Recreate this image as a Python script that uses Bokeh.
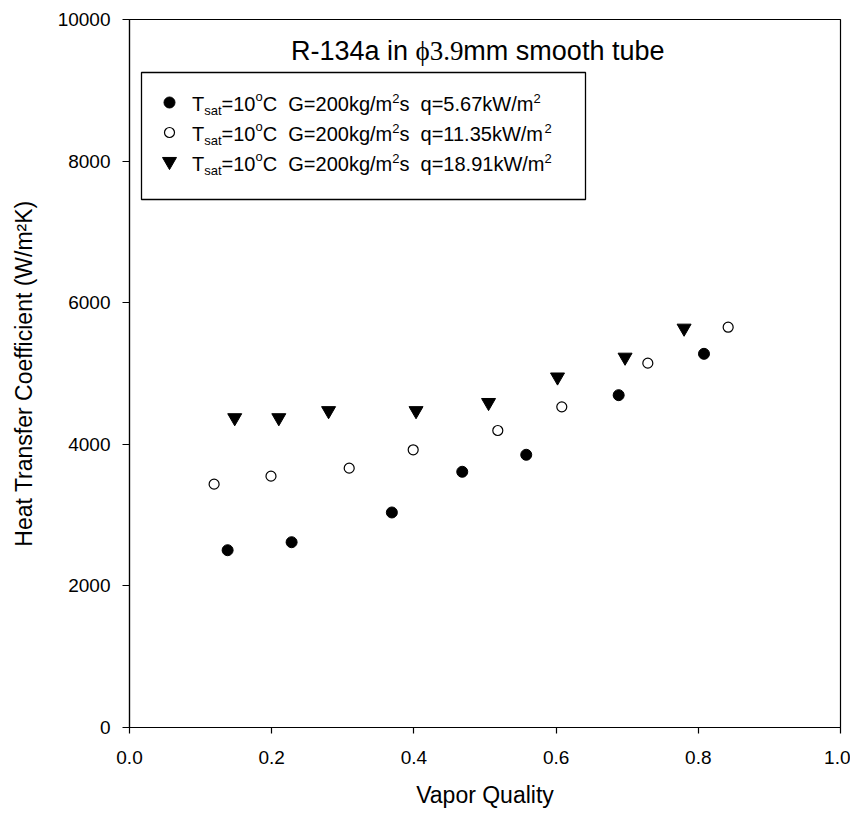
from bokeh.plotting import figure
from bokeh.models import Label, BoxAnnotation, FixedTicker, PrintfTickFormatter, Range1d
from bokeh.embed import file_html
from bokeh.resources import INLINE

# ---------------- data ----------------
quality_q567 = [0.138, 0.228, 0.369, 0.468, 0.558, 0.688, 0.808]
htc_q567 = [2504, 2617, 3037, 3612, 3852, 4694, 5278]

quality_q1135 = [0.119, 0.199, 0.309, 0.399, 0.518, 0.608, 0.729, 0.842]
htc_q1135 = [3437, 3550, 3663, 3922, 4195, 4529, 5146, 5654]

quality_q1891 = [0.148, 0.210, 0.280, 0.403, 0.505, 0.602, 0.697, 0.780]
htc_q1891 = [4375, 4375, 4475, 4475, 4590, 4950, 5230, 5640]

heat_flux_labels = ["5.67", "11.35", "18.91"]
x_ticks = [0.0, 0.2, 0.4, 0.6, 0.8, 1.0]
y_ticks = [0, 2000, 4000, 6000, 8000, 10000]
title_runs_text = ["R-134a in ", "\u03d53.9", "mm smooth tube"]
x_label = "Vapor Quality"
y_label = "Heat Transfer Coefficient (W/m\u00b2K)"

# ---------------- figure ----------------
FRAME_W, FRAME_H = 711, 708
SANS = "Liberation Sans"
SERIF = "Liberation Serif"

p = figure(frame_width=FRAME_W, frame_height=FRAME_H,
           x_range=Range1d(0, 1), y_range=Range1d(0, 10000),
           output_backend="svg", toolbar_location=None,
           min_border_left=129, min_border_top=19, min_border_right=10,
           min_border_bottom=86)
p.grid.visible = False
p.background_fill_color = "white"
p.border_fill_color = "white"
p.outline_line_color = "black"
p.outline_line_width = 1.2

for ax in (p.xaxis[0], p.yaxis[0]):
    ax.axis_line_color = "black"
    ax.axis_line_width = 1.2
    ax.major_tick_line_color = "black"
    ax.major_tick_line_width = 1.2
    ax.major_tick_in = 0
    ax.minor_tick_line_color = None
    ax.major_label_text_font = SANS
    ax.major_label_text_font_size = "19px"
    ax.major_label_text_color = "black"
    ax.axis_label_text_font = SANS
    ax.axis_label_text_font_size = "23px"
    ax.axis_label_text_font_style = "normal"
    ax.axis_label_text_color = "black"

p.xaxis.ticker = FixedTicker(ticks=x_ticks)
p.yaxis.ticker = FixedTicker(ticks=y_ticks)
p.xaxis.formatter = PrintfTickFormatter(format="%.1f")
p.yaxis.formatter = PrintfTickFormatter(format="%d")
p.xaxis.major_tick_out = 6
p.yaxis.major_tick_out = 7
p.xaxis.major_label_standoff = 17
p.yaxis.major_label_standoff = 12
p.xaxis.axis_label = x_label
p.yaxis.axis_label = y_label
p.xaxis.axis_label_standoff = 15
p.yaxis.axis_label_standoff = 18

# ---------------- data markers ----------------
p.scatter(quality_q567, htc_q567, marker="circle", size=11,
          fill_color="black", line_color="black")
p.scatter(quality_q1135, htc_q1135, marker="circle", size=10,
          fill_color="white", line_color="black", line_width=1.2)
p.scatter(quality_q1891, htc_q1891, marker="inverted_triangle", size=14,
          fill_color="black", line_color="black")

# ---------------- text helpers ----------------
SANS_W = {' ': 278, '-': 333, '.': 278, '/': 278, '=': 584, '(': 333, ')': 333,
          'C': 722, 'G': 778, 'R': 722, 'T': 611, 'W': 944, 'K': 667,
          'a': 556, 'b': 556, 'e': 556, 'g': 556, 'h': 556, 'i': 222, 'k': 500,
          'm': 833, 'n': 556, 'o': 556, 'q': 556, 's': 500, 't': 278, 'u': 556}
for d in "0123456789":
    SANS_W[d] = 556
SERIF_W = {' ': 250, '.': 250, '\u03d5': 521}
for d in "0123456789":
    SERIF_W[d] = 500


def text_width(s, size, table):
    return sum(table.get(c, 556) for c in s) * size / 1000.0


def place_runs(x0, base, runs):
    x = x0
    for text, font, size, dy in runs:
        table = SERIF_W if font == SERIF else SANS_W
        for i, word in enumerate(text.split(' ')):
            if i > 0:
                x += table[' '] * size / 1000.0
            if word:
                p.add_layout(Label(x=x, y=base + dy, x_units="screen", y_units="screen",
                                   text=word, text_font=font,
                                   text_font_size=f"{size}px", text_color="black",
                                   text_baseline="alphabetic", text_align="left"))
                x += text_width(word, size, table)


# ---------------- title ----------------
place_runs(161.5, 677, [(title_runs_text[0], SANS, 27, 0),
                        (title_runs_text[1], SERIF, 27, 0),
                        (title_runs_text[2], SANS, 27, 0)])

# ---------------- legend ----------------
p.add_layout(BoxAnnotation(left=12, right=456, top=655, bottom=528,
                           left_units="screen", right_units="screen",
                           top_units="screen", bottom_units="screen",
                           fill_color="white", fill_alpha=1.0,
                           line_color="black", line_alpha=1.0, line_width=1.3,
                           level="underlay"))


def fx(px):
    return p.x_range.start + px / FRAME_W * (p.x_range.end - p.x_range.start)


def fy(py):
    return p.y_range.start + py / FRAME_H * (p.y_range.end - p.y_range.start)


legend_marker_x = 40
legend_rows_y = [625, 595, 566]
legend_text_base = [623.5, 593.5, 563.5]
marker_styles = [dict(marker="circle", size=11, fill_color="black", line_color="black"),
                 dict(marker="circle", size=10, fill_color="white", line_color="black", line_width=1.2),
                 dict(marker="inverted_triangle", size=14, fill_color="black", line_color="black")]

for hf, my, tb, st in zip(heat_flux_labels, legend_rows_y, legend_text_base, marker_styles):
    p.scatter([fx(legend_marker_x)], [fy(my)], **st)
    place_runs(62.5, tb, [("T", SANS, 20, 0), ("sat", SANS, 13, -6), ("=10", SANS, 20, 0),
                          ("o", SANS, 13, 8), ("C  G=200kg/m", SANS, 20, 0), ("2", SANS, 13, 6),
                          ("s  q=" + hf + "kW/m", SANS, 20, 0), ("2", SANS, 13, 6)])

open("out.html", "w").write(file_html(p, INLINE))
